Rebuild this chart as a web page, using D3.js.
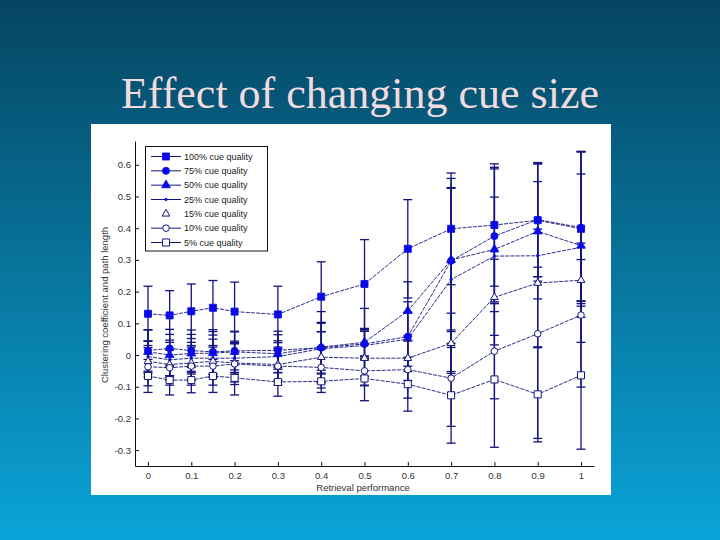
<!DOCTYPE html>
<html>
<head>
<meta charset="utf-8">
<script src="https://cdn.jsdelivr.net/npm/d3@7"></script>
<style>
  html, body { margin: 0; padding: 0; }
  svg { display: block; }
</style>
</head>
<body>
<svg id="chart" width="720" height="540"></svg>
<script>
// retrieval performance (x) shared by every series
const xVals = [0, 0.05, 0.1, 0.15, 0.2, 0.3, 0.4, 0.5, 0.6, 0.7, 0.8, 0.9, 1.0];

// mean values
const q100 = [0.130, 0.125, 0.138, 0.149, 0.137, 0.128, 0.184, 0.224, 0.335, 0.398, 0.410, 0.425, 0.398];
const q75  = [0.014, 0.021, 0.014, 0.010, 0.013, 0.015, 0.023, 0.035, 0.058, 0.297, 0.375, 0.427, 0.402];
const q50  = [0.010, 0.000, 0.005, 0.006, 0.010, 0.004, 0.025, 0.040, 0.139, 0.300, 0.333, 0.390, 0.345];
const q25  = [-0.005, -0.015, -0.010, -0.010, -0.010, -0.005, 0.020, 0.030, 0.050, 0.238, 0.312, 0.313, 0.340];
const q15  = [-0.020, -0.030, -0.025, -0.020, -0.025, -0.030, -0.007, -0.010, -0.010, 0.037, 0.182, 0.227, 0.236];
const q10  = [-0.037, -0.040, -0.035, -0.035, -0.028, -0.035, -0.039, -0.050, -0.046, -0.073, 0.012, 0.067, 0.126];
const q5   = [-0.066, -0.079, -0.079, -0.066, -0.072, -0.085, -0.083, -0.074, -0.092, -0.127, -0.077, -0.124, -0.064];

// error bar half-widths
const e100 = [0.087, 0.078, 0.086, 0.086, 0.093, 0.089, 0.110, 0.140, 0.155, 0.176, 0.193, 0.178, 0.244];
const e75  = [0.065, 0.060, 0.065, 0.070, 0.060, 0.060, 0.080, 0.045, 0.110, 0.260, 0.212, 0.180, 0.240];
const e50  = [0.070, 0.065, 0.060, 0.068, 0.065, 0.060, 0.112, 0.107, 0.092, 0.226, 0.165, 0.157, 0.226];
const e25  = [0.050, 0.055, 0.050, 0.060, 0.050, 0.050, 0.080, 0.045, 0.085, 0.290, 0.280, 0.290, 0.300];
const e15  = [0.050, 0.050, 0.055, 0.050, 0.060, 0.050, 0.080, 0.085, 0.070, 0.095, 0.120, 0.050, 0.065];
const e10  = [0.060, 0.055, 0.060, 0.060, 0.065, 0.060, 0.065, 0.047, 0.090, 0.152, 0.150, 0.330, 0.227];
const e5   = [0.052, 0.047, 0.040, 0.052, 0.054, 0.045, 0.035, 0.070, 0.085, 0.151, 0.214, 0.150, 0.233];

const seriesNames = ['100% cue quality', '75% cue quality', '50% cue quality', '25% cue quality',
                     '15% cue quality', '10% cue quality', '5% cue quality'];

const xTicks = [0, 0.1, 0.2, 0.3, 0.4, 0.5, 0.6, 0.7, 0.8, 0.9, 1];
const xTickLabels = ['0', '0.1', '0.2', '0.3', '0.4', '0.5', '0.6', '0.7', '0.8', '0.9', '1'];
const yTicks = [-0.3, -0.2, -0.1, 0, 0.1, 0.2, 0.3, 0.4, 0.5, 0.6];
const yTickLabels = ['-0.3', '-0.2', '-0.1', '0', '0.1', '0.2', '0.3', '0.4', '0.5', '0.6'];

// marker style per series
const markers = [
    {type: d3.symbolSquare,   size: 50, fill: true},
    {type: d3.symbolCircle,   size: 40, fill: true},
    {type: d3.symbolTriangle, size: 34, fill: true},
    {type: d3.symbolCircle,   size: 5,  fill: true},
    {type: d3.symbolTriangle, size: 26, fill: false},
    {type: d3.symbolCircle,   size: 34, fill: false},
    {type: d3.symbolSquare,   size: 50, fill: false}
];

const means = [q100, q75, q50, q25, q15, q10, q5];
const errs = [e100, e75, e50, e25, e15, e10, e5];

const series = seriesNames.map((name, i) => ({
    name: name,
    marker: markers[i],
    points: xVals.map((x, j) => ({x: x, y: means[i][j], e: errs[i][j]}))
}));

const lineCol = '#14147e';
const markCol = '#0a0ae6';

const svg = d3.select('#chart');

// slide background
const grad = svg.append('defs').append('linearGradient')
    .attr('id', 'bg').attr('x1', 0).attr('y1', 0).attr('x2', 0).attr('y2', 1);
grad.append('stop').attr('offset', '0%').attr('stop-color', '#054561');
grad.append('stop').attr('offset', '100%').attr('stop-color', '#0aa4d8');
svg.append('rect').attr('width', 720).attr('height', 540).attr('fill', 'url(#bg)');

svg.append('text')
    .attr('x', 360).attr('y', 108)
    .attr('text-anchor', 'middle')
    .attr('font-family', '"Liberation Serif", "Times New Roman", serif')
    .attr('font-size', 44)
    .attr('fill', '#f2dbe0')
    .text('Effect of changing cue size');

// white figure panel
svg.append('rect')
    .attr('x', 91).attr('y', 124).attr('width', 520).attr('height', 371)
    .attr('fill', '#ffffff');

const x = d3.scaleLinear().domain([-0.03, 1.03]).range([135, 594]);
const y = d3.scaleLinear().domain([-0.35, 0.675]).range([466, 141]);

const font = '"Liberation Sans", Arial, sans-serif';

// axes, MATLAB style ticks pointing inward
const xAxis = svg.append('g')
    .attr('transform', `translate(0,${y.range()[0]})`)
    .call(d3.axisBottom(x).tickValues(xTicks)
        .tickFormat((d, i) => xTickLabels[i])
        .tickSizeInner(-4).tickSizeOuter(0).tickPadding(6));

const yAxis = svg.append('g')
    .attr('transform', `translate(${x.range()[0]},0)`)
    .call(d3.axisLeft(y).tickValues(yTicks)
        .tickFormat((d, i) => yTickLabels[i])
        .tickSizeInner(-4).tickSizeOuter(0).tickPadding(4));

[xAxis, yAxis].forEach(g => {
    g.select('.domain').attr('stroke', '#111');
    g.selectAll('.tick line').attr('stroke', '#111');
    g.selectAll('.tick text')
        .attr('font-family', font).attr('font-size', 9.5).attr('fill', '#333');
});

svg.append('text')
    .attr('x', 363).attr('y', 491)
    .attr('text-anchor', 'middle')
    .attr('font-family', font).attr('font-size', 9.5).attr('fill', '#333')
    .text('Retrieval performance');

svg.append('text')
    .attr('transform', 'translate(108,305) rotate(-90)')
    .attr('text-anchor', 'middle')
    .attr('font-family', font).attr('font-size', 9.5).attr('fill', '#333')
    .text('Clustering coefficient and path length');

const plot = svg.append('g');

// error bars
const capW = 4.5;
const bars = plot.selectAll('g.err')
    .data(series.flatMap(s => s.points))
    .join('g').attr('class', 'err')
    .attr('stroke', lineCol).attr('stroke-width', 1.3);

bars.append('line')
    .attr('x1', d => x(d.x)).attr('x2', d => x(d.x))
    .attr('y1', d => y(d.y - d.e)).attr('y2', d => y(d.y + d.e));
bars.append('line')
    .attr('x1', d => x(d.x) - capW).attr('x2', d => x(d.x) + capW)
    .attr('y1', d => y(d.y + d.e)).attr('y2', d => y(d.y + d.e));
bars.append('line')
    .attr('x1', d => x(d.x) - capW).attr('x2', d => x(d.x) + capW)
    .attr('y1', d => y(d.y - d.e)).attr('y2', d => y(d.y - d.e));

// connecting lines
const line = d3.line().x(d => x(d.x)).y(d => y(d.y));
plot.selectAll('path.series')
    .data(series)
    .join('path').attr('class', 'series')
    .attr('d', d => line(d.points))
    .attr('fill', 'none')
    .attr('stroke', lineCol)
    .attr('stroke-width', 0.9)
    .attr('stroke-dasharray', '4,1.2');

// markers
function drawMarker(sel, m) {
    sel.attr('d', d3.symbol().type(m.type).size(m.size))
        .attr('fill', m.fill ? markCol : '#ffffff')
        .attr('stroke', m.fill ? markCol : lineCol)
        .attr('stroke-width', m.fill ? 0.8 : 1);
}

series.forEach(s => {
    plot.append('g').selectAll('path')
        .data(s.points)
        .join('path')
        .attr('transform', d => `translate(${x(d.x)},${y(d.y)})`)
        .call(drawMarker, s.marker);
});

// legend
const legend = svg.append('g');
legend.append('rect')
    .attr('x', 145.5).attr('y', 146.5).attr('width', 122).attr('height', 104.5)
    .attr('fill', '#ffffff').attr('stroke', '#111').attr('stroke-width', 1);

const rowY = d3.scalePoint().domain(seriesNames).range([156.5, 242.5]);

const rows = legend.selectAll('g.row')
    .data(series)
    .join('g').attr('class', 'row')
    .attr('transform', d => `translate(0,${rowY(d.name)})`);

rows.filter((d, i) => i !== 4).append('line')
    .attr('x1', 151).attr('x2', 181)
    .attr('stroke', lineCol).attr('stroke-width', 1);

rows.append('path')
    .attr('transform', 'translate(166,0)')
    .each(function (d) { d3.select(this).call(drawMarker, d.marker); });

rows.append('text')
    .attr('x', 184).attr('dy', '0.35em')
    .attr('font-family', font).attr('font-size', 9).attr('fill', '#222')
    .text(d => d.name);
</script>
</body>
</html>
